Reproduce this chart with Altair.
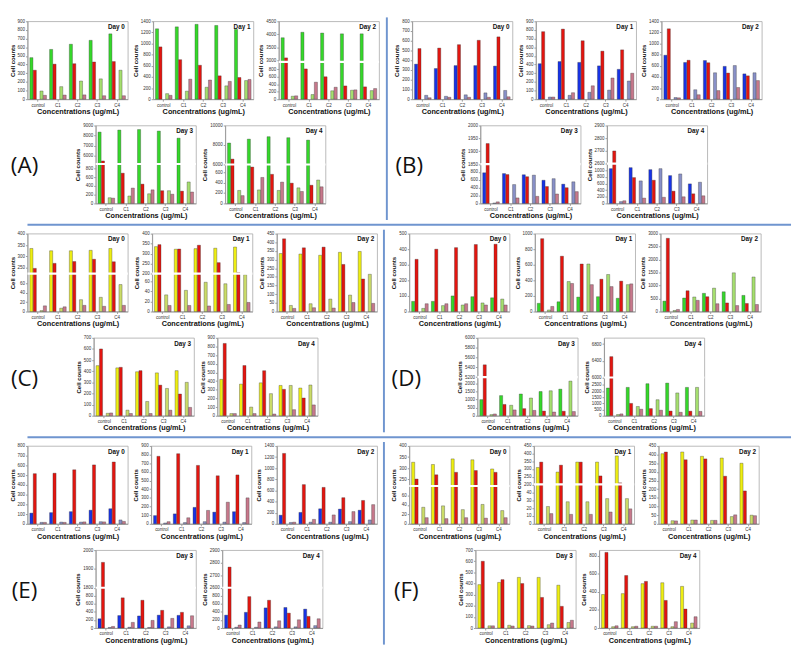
import altair as alt
import pandas as pd

GROUPS = ["control", "C1", "C2", "C3", "C4"]
SERIES = ["s1", "s2", "s3", "s4"]
DAYS = ["Day 0", "Day 1", "Day 2", "Day 3", "Day 4"]

# ---- values: one list per group: [bar1, bar2, bar3, bar4] ----
A_D0 = [[480, 335, 95, 45], [575, 405, 145, 48], [635, 410, 210, 50], [680, 430, 235, 40], [755, 435, 335, 40]]
A_D1 = [[1265, 940, 100, 70], [1300, 710, 145, 360], [1345, 610, 215, 345], [1325, 420, 240, 320], [1255, 390, 335, 355]]
A_D2 = [[3870, 3100, 80, 90], [4080, 810, 125, 455], [4050, 600, 225, 320], [4020, 355, 240, 250], [4020, 330, 230, 285]]
A_D3 = [[8350, 5500, 130, 120], [8550, 690, 170, 350], [8600, 440, 220, 310], [8450, 290, 290, 210], [7750, 280, 490, 260]]
A_D4 = [[8200, 6550, 250, 150], [8600, 700, 260, 500], [8850, 560, 250, 410], [8750, 390, 300, 230], [8500, 350, 450, 320]]

B_D0 = [[360, 520, 40, 15], [315, 525, 30, 20], [345, 560, 45, 20], [345, 605, 65, 20], [340, 640, 90, 25]]
B_D1 = [[410, 780, 25, 25], [435, 810, 45, 75], [425, 675, 80, 155], [385, 555, 105, 245], [345, 570, 210, 300]]
B_D2 = [[790, 1265, 30, 25], [660, 700, 170, 80], [695, 655, 475, 155], [590, 470, 605, 210], [455, 420, 475, 335]]
B_D3 = [[780, 1930, 10, 40], [760, 735, 480, 140], [730, 680, 720, 180], [590, 430, 630, 240], [490, 400, 550, 300]]
B_D4 = [[1050, 2700, 55, 80], [1080, 780, 680, 160], [1020, 700, 1050, 185], [840, 370, 890, 200], [590, 290, 640, 230]]

C_D0 = [[335, 248, 2, 12], [325, 270, 7, 10], [325, 278, 25, 13], [327, 288, 30, 11], [335, 277, 57, 13]]
C_D1 = [[335, 345, 33, 12], [322, 323, 42, 12], [325, 342, 58, 11], [327, 255, 55, 14], [333, 205, 73, 18]]
C_D2 = [[335, 420, 35, 18], [332, 368, 45, 22], [325, 372, 72, 20], [342, 272, 95, 52], [347, 188, 215, 47]]
C_D3 = [[450, 600, 22, 25], [430, 435, 50, 20], [395, 405, 128, 20], [385, 275, 245, 50], [405, 195, 300, 75]]
C_D4 = [[420, 835, 25, 25], [365, 580, 100, 25], [380, 520, 255, 20], [350, 305, 350, 70], [320, 205, 355, 125]]

D_D0 = [[65, 335, 20, 50], [65, 400, 38, 50], [100, 410, 42, 50], [95, 430, 55, 42], [88, 432, 80, 42]]
D_D1 = [[105, 935, 20, 65], [125, 710, 385, 360], [185, 610, 610, 345], [190, 415, 475, 320], [170, 390, 345, 355]]
D_D2 = [[400, 2820, 40, 80], [520, 800, 560, 430], [700, 570, 900, 300], [760, 330, 1490, 230], [620, 310, 1330, 270]]
D_D3 = [[1000, 5450, 70, 110], [1250, 700, 650, 360], [1350, 440, 1100, 330], [1500, 290, 1550, 230], [1650, 280, 2150, 260]]
D_D4 = [[2250, 6500, 100, 150], [2300, 1000, 750, 530], [2600, 580, 1300, 450], [2650, 380, 1850, 280], [2300, 370, 2300, 350]]

E_D0 = [[110, 515, 15, 15], [115, 520, 18, 15], [125, 555, 18, 20], [140, 605, 22, 20], [155, 635, 40, 25]]
E_D1 = [[95, 780, 10, 25], [115, 810, 15, 70], [190, 675, 25, 155], [135, 555, 20, 250], [140, 565, 15, 300]]
E_D2 = [[155, 1265, 25, 30], [205, 705, 30, 80], [270, 655, 30, 160], [265, 470, 40, 220], [245, 420, 70, 345]]
E_D3 = [[230, 1935, 15, 40], [310, 750, 20, 140], [300, 690, 15, 190], [320, 440, 30, 240], [315, 390, 55, 305]]
E_D4 = [[320, 2765, 20, 75], [390, 780, 20, 150], [500, 690, 30, 180], [510, 370, 30, 205], [470, 290, 60, 230]]

F_D0 = [[327, 252, 35, 13], [317, 271, 38, 11], [342, 282, 30, 13], [338, 290, 41, 12], [297, 282, 28, 13]]
F_D1 = [[310, 345, 22, 13], [280, 325, 28, 12], [345, 345, 28, 12], [345, 255, 32, 15], [385, 210, 32, 19]]
F_D2 = [[405, 415, 18, 17], [415, 370, 22, 22], [390, 375, 20, 20], [380, 275, 42, 52], [350, 190, 50, 47]]
F_D3 = [[390, 600, 20, 20], [410, 435, 25, 18], [455, 400, 22, 18], [455, 275, 30, 45], [385, 195, 50, 70]]
F_D4 = [[370, 835, 15, 25], [380, 580, 15, 20], [490, 515, 20, 20], [500, 305, 15, 70], [460, 210, 55, 125]]

# ---- y axes: ("lin", top, ticks) or ("brk", lower_top, upper_bottom, upper_top, break_fraction, ticks) ----
A_AX = [("lin", 900, [0, 100, 200, 300, 400, 500, 600, 700, 800, 900]),
        ("lin", 1400, [0, 200, 400, 600, 800, 1000, 1200, 1400]),
        ("brk", 1000, 2950, 4500, 0.48, [0, 200, 400, 600, 800, 3000, 3500, 4000, 4500]),
        ("brk", 900, 5200, 9000, 0.506, [0, 200, 400, 600, 800, 6000, 7000, 8000, 9000]),
        ("brk", 750, 6000, 10000, 0.5, [0, 200, 400, 600, 6000, 8000, 10000])]
B_AX = [("lin", 800, [0, 100, 200, 300, 400, 500, 600, 700, 800]),
        ("lin", 900, [0, 100, 200, 300, 400, 500, 600, 700, 800, 900]),
        ("lin", 1400, [0, 200, 400, 600, 800, 1000, 1200, 1400]),
        ("brk", 1000, 1850, 2000, 0.504, [0, 200, 400, 600, 800, 1850, 1900, 1950, 2000]),
        ("brk", 1200, 2600, 2900, 0.51, [0, 200, 400, 600, 800, 1000, 2600, 2700, 2800, 2900])]
C_AX = [("brk", 80, 225, 400, 0.486, [0, 20, 40, 60, 250, 300, 350, 400]),
        ("brk", 75, 200, 400, 0.486, [0, 20, 40, 60, 200, 250, 300, 350, 400]),
        ("lin", 450, [0, 50, 100, 150, 200, 250, 300, 350, 400, 450]),
        ("lin", 700, [0, 100, 200, 300, 400, 500, 600, 700]),
        ("lin", 900, [0, 100, 200, 300, 400, 500, 600, 700, 800, 900])]
D_AX = [("lin", 500, [0, 100, 200, 300, 400, 500]),
        ("lin", 1000, [0, 200, 400, 600, 800, 1000]),
        ("lin", 3000, [0, 500, 1000, 1500, 2000, 2500, 3000]),
        ("brk", 2400, 5200, 6000, 0.496, [0, 500, 1000, 1500, 2000, 5200, 5400, 5600, 5800, 6000]),
        ("brk", 3100, 6000, 6950, 0.49, [0, 500, 1000, 1500, 2000, 2500, 6000, 6400, 6800])]
E_AX = [("lin", 800, [0, 100, 200, 300, 400, 500, 600, 700, 800]),
        ("lin", 900, [0, 100, 200, 300, 400, 500, 600, 700, 800, 900]),
        ("lin", 1400, [0, 200, 400, 600, 800, 1000, 1200, 1400]),
        ("brk", 1000, 1800, 2000, 0.517, [0, 200, 400, 600, 800, 1800, 1900, 2000]),
        ("brk", 1000, 2600, 2900, 0.517, [0, 200, 400, 600, 800, 2600, 2700, 2800, 2900])]
F_AX = [("brk", 80, 221, 400, 0.486, [0, 20, 40, 60, 250, 300, 350, 400]),
        ("brk", 50, 200, 450, 0.506, [0, 10, 20, 30, 40, 200, 250, 300, 350, 400, 450]),
        ("lin", 450, [0, 50, 100, 150, 200, 250, 300, 350, 400, 450]),
        ("lin", 700, [0, 100, 200, 300, 400, 500, 600, 700]),
        ("lin", 860, [0, 200, 400, 600, 800])]

GREEN = ["#35d82a", "#e3150f", "#a5df6e", "#c7788b"]
BLUE = ["#1733e6", "#e3150f", "#8890c8", "#c7788b"]
YELLOW = ["#eeee12", "#e3150f", "#cbdc68", "#c7788b"]

PANELS = [
    ("A", [A_D0, A_D1, A_D2, A_D3, A_D4], A_AX, GREEN),
    ("B", [B_D0, B_D1, B_D2, B_D3, B_D4], B_AX, BLUE),
    ("C", [C_D0, C_D1, C_D2, C_D3, C_D4], C_AX, YELLOW),
    ("D", [D_D0, D_D1, D_D2, D_D3, D_D4], D_AX, GREEN),
    ("E", [E_D0, E_D1, E_D2, E_D3, E_D4], E_AX, BLUE),
    ("F", [F_D0, F_D1, F_D2, F_D3, F_D4], F_AX, YELLOW),
]

FONT = "Liberation Sans"
W, H = 103, 80
SP = 3
BORDER = "#6f95cf"


def indep(c):
    return c.resolve_scale(x="independent", y="independent", color="independent", xOffset="independent")


def sub(day, values, axis, palette):
    df = pd.DataFrame([
        {"group": g, "series": s, "count": v, "day": day}
        for g, vals in zip(GROUPS, values) for s, v in zip(SERIES, vals)
    ])
    base = alt.Chart(df)
    xenc = alt.X("group:N", sort=GROUPS,
                 scale=alt.Scale(paddingInner=0.16, paddingOuter=0.12),
                 axis=alt.Axis(title="Concentrations (ug/mL)", labelAngle=0))
    xoff = alt.XOffset("series:N", scale=alt.Scale(domain=["s1", "s2", "gap", "s3", "s4"], paddingInner=0.08))
    color = alt.Color("series:N", scale=alt.Scale(domain=SERIES, range=palette), legend=None)
    layers = []
    if axis[0] == "lin":
        _, top, ticks = axis
        bars = base.mark_bar(stroke="#333333", strokeWidth=0.35).encode(
            x=xenc, xOffset=xoff, color=color,
            y=alt.Y("count:Q", scale=alt.Scale(domain=[0, top], nice=False, zero=False),
                    axis=alt.Axis(title="Cell counts", values=ticks, format="d", labelOverlap=False)),
        )
        layers.append(bars)
    else:
        _, lo, umin, umax, frac, ticks = axis
        span = umax - umin
        # broken axis: lower segment [0, lo] and upper segment [umin, umax] share the plot height
        disp_ticks = [t / lo * frac if t < umin else frac + (t - umin) / span * (1 - frac) for t in ticks]
        label_expr = (f"datum.value < {frac} - 1e-9 ? format(datum.value / {frac} * {lo}, 'd') : "
                      f"format({umin} + (datum.value - {frac}) / {1 - frac} * {span}, 'd')")
        bars = base.transform_calculate(
            disp=f"datum.count < {umin} ? datum.count / {lo} * {frac} : {frac} + (datum.count - {umin}) / {span} * {1 - frac}"
        ).mark_bar(stroke="#333333", strokeWidth=0.35).encode(
            x=xenc, xOffset=xoff, color=color,
            y=alt.Y("disp:Q", scale=alt.Scale(domain=[0, 1], nice=False, zero=False),
                    axis=alt.Axis(title="Cell counts", values=disp_ticks, labelExpr=label_expr,
                                  labelOverlap=False, tickCount=len(disp_ticks))),
        )
        rule = alt.Chart(pd.DataFrame({"b": [frac]})).mark_rule(color="white", strokeWidth=2.2).encode(
            y=alt.Y("b:Q", axis=None))
        layers += [bars, rule]
    title = alt.Chart(pd.DataFrame({"day": [day]})).mark_text(
        align="right", baseline="top", fontSize=6.5, fontWeight="bold", font=FONT, color="#111"
    ).encode(text="day:N", x=alt.value(W - 3), y=alt.value(3))
    layers.append(title)
    return alt.layer(*layers).resolve_axis(y="independent").properties(width=W, height=H)


def label_chart(letter):
    return alt.Chart(pd.DataFrame({"t": [f"({letter})"]}), view=alt.ViewBackground(strokeOpacity=0)).mark_text(
        fontSize=23, font="Open Sans", align="center", baseline="middle", color="#111"
    ).encode(text="t:N", x=alt.value(-3), y=alt.value(H / 2 + 2)).properties(width=45, height=H)


def panel(letter, vals, axes, palette):
    charts = [sub(DAYS[i], vals[i], axes[i], palette) for i in range(5)]
    top = indep(alt.hconcat(*charts[:3], spacing=SP))
    bottom = indep(alt.hconcat(label_chart(letter), charts[3], charts[4], spacing=SP))
    return indep(alt.vconcat(top, bottom, spacing=6, center=False))


PANEL_H = 2 * (H + 18) + 6


def vsep():
    return alt.Chart(pd.DataFrame({"v": [0]}), view=alt.ViewBackground(strokeOpacity=0)).mark_rule(
        color=BORDER, strokeWidth=2).encode(
        x=alt.value(1), y=alt.value(-4), y2=alt.value(PANEL_H + 2)).properties(width=2, height=PANEL_H - 4)


def hsep():
    return alt.Chart(pd.DataFrame({"v": [0]}), view=alt.ViewBackground(strokeOpacity=0)).mark_rule(
        color=BORDER, strokeWidth=2).encode(
        x=alt.value(0), x2=alt.value(784), y=alt.value(0)).properties(width=784, height=1)


rows = []
for i in range(3):
    l, r = PANELS[2 * i], PANELS[2 * i + 1]
    row = indep(alt.hconcat(panel(*l), vsep(), panel(*r), spacing=5))
    rows.append(row)

chart = indep(alt.vconcat(rows[0], hsep(), rows[1], hsep(), rows[2], spacing=3, center=False)).properties(
    padding={"left": 0, "top": 0, "right": 0, "bottom": 0}
).configure_axis(
    labelFont=FONT, titleFont=FONT, labelFontSize=4.6, titleFontSize=6.2, titleFontWeight="bold",
    labelColor="#333", titleColor="#111", domainColor="#9a9a9a", tickColor="#9a9a9a",
    tickSize=2, labelPadding=1, titlePadding=2, grid=False,
).configure_axisX(titleFontSize=7.5, labelFontSize=4.6, titlePadding=1).configure_view(
    stroke="#a8a8a8", strokeWidth=0.8
)

chart.save("out.html", embed_options={"renderer": "svg", "actions": False})
